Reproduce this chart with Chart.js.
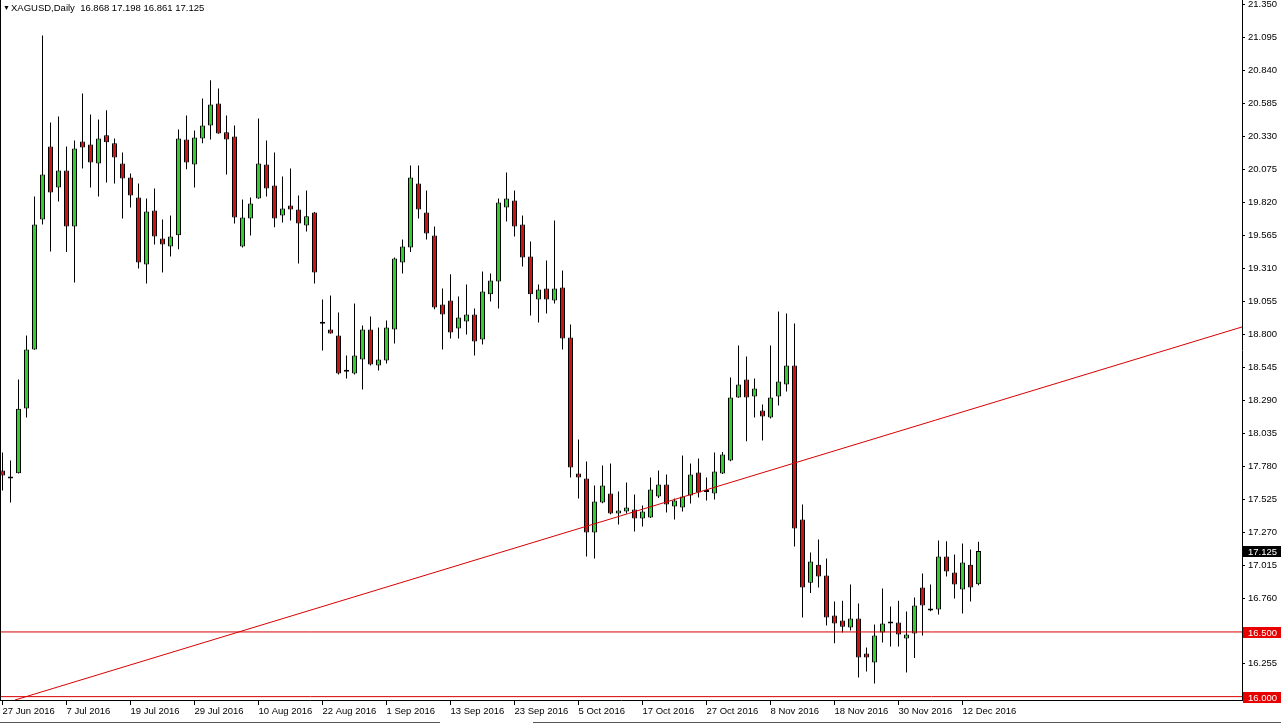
<!DOCTYPE html>
<html>
<head>
<meta charset="utf-8">
<script src="https://cdn.jsdelivr.net/npm/chart.js@4.4.1/dist/chart.umd.min.js"></script>
<style>
  html, body { margin: 0; padding: 0; background: #fff; }
  canvas { display: block; }
</style>
</head>
<body>
<canvas id="grafica" width="1281" height="724"></canvas>
<script>
// XAGUSD diario, una vela por dia habil (27 Jun - 14 Dic 2016)
const openP = [
  17.748, 17.702, 17.727, 18.227, 18.683, 19.688, 20.252, 19.935, 20.067, 19.634,
  20.291, 20.268, 20.121, 20.338, 20.276, 20.121, 20.013, 19.858, 19.340, 19.758,
  19.541, 19.479, 19.565, 20.306, 20.113, 20.314, 20.415, 20.585, 20.361, 20.330,
  19.479, 19.696, 19.850, 20.113, 19.951, 19.719, 19.796, 19.765, 19.642, 19.742,
  18.886, 18.838, 18.791, 18.515, 18.498, 18.606, 18.838, 18.560, 18.598, 18.838,
  19.356, 19.471, 19.966, 19.742, 19.564, 19.031, 19.062, 18.846, 18.900, 18.954,
  18.761, 19.109, 19.209, 19.781, 19.835, 19.649, 19.402, 19.070, 19.155, 19.062,
  19.163, 18.776, 17.724, 17.686, 17.268, 17.500, 17.570, 17.415, 17.431, 17.446,
  17.377, 17.384, 17.546, 17.639, 17.469, 17.461, 17.554, 17.732, 17.589, 17.570,
  17.724, 17.825, 18.312, 18.451, 18.320, 18.211, 18.158, 18.320, 18.413, 18.559,
  17.369, 16.881, 17.020, 16.936, 16.627, 16.588, 16.534, 16.603, 16.333, 16.263,
  16.495, 16.565, 16.572, 16.449, 16.487, 16.843, 16.681, 16.673, 17.083, 16.959,
  16.828, 17.020, 16.868
];
const highP = [
  17.887, 17.825, 18.451, 18.791, 19.866, 21.110, 20.438, 20.484, 20.252, 20.299,
  20.662, 20.500, 20.461, 20.531, 20.314, 20.206, 20.044, 19.966, 19.850, 19.928,
  19.688, 19.719, 20.384, 20.492, 20.376, 20.623, 20.763, 20.700, 20.492, 20.415,
  19.843, 19.858, 20.469, 20.299, 20.206, 20.020, 20.082, 19.874, 19.912, 19.745,
  19.070, 19.101, 18.969, 18.637, 19.039, 18.869, 18.938, 18.853, 18.907, 19.394,
  19.533, 20.105, 20.105, 19.912, 19.634, 19.155, 19.264, 19.093, 19.186, 19.000,
  19.286, 19.271, 19.850, 20.051, 19.912, 19.719, 19.518, 19.186, 19.371, 19.680,
  19.294, 18.876, 17.987, 17.817, 17.631, 17.786, 17.802, 17.585, 17.655, 17.562,
  17.477, 17.693, 17.747, 17.716, 17.531, 17.864, 17.802, 17.840, 17.693, 17.886,
  17.890, 18.467, 18.714, 18.629, 18.459, 18.258, 18.714, 18.977, 18.961, 18.884,
  17.485, 17.113, 17.214, 17.067, 16.735, 16.742, 16.866, 16.719, 16.379, 16.557,
  16.835, 16.696, 16.742, 16.658, 16.766, 16.951, 16.866, 17.206, 17.200, 17.098,
  17.183, 17.137, 17.198
];
const lowP = [
  17.593, 17.500, 17.724, 18.158, 18.680, 19.649, 19.441, 19.827, 19.437, 19.201,
  20.082, 19.935, 19.866, 19.974, 19.966, 19.696, 19.781, 19.309, 19.193, 19.495,
  19.278, 19.402, 19.457, 20.075, 19.935, 20.276, 20.306, 20.350, 20.036, 19.657,
  19.471, 19.564, 19.848, 19.866, 19.627, 19.665, 19.680, 19.348, 19.595, 19.193,
  18.675, 18.805, 18.490, 18.459, 18.490, 18.374, 18.560, 18.521, 18.575, 18.730,
  19.271, 19.437, 19.696, 19.533, 18.993, 18.683, 18.768, 18.768, 18.799, 18.637,
  18.722, 19.054, 19.000, 19.673, 19.556, 19.325, 18.946, 18.892, 18.961, 19.039,
  18.683, 17.693, 17.531, 17.083, 17.067, 17.495, 17.410, 17.330, 17.415, 17.276,
  17.315, 17.380, 17.536, 17.423, 17.369, 17.431, 17.492, 17.539, 17.516, 17.523,
  17.720, 17.820, 18.310, 17.974, 18.158, 17.980, 18.150, 18.250, 18.358, 17.160,
  16.611, 16.800, 16.843, 16.549, 16.412, 16.495, 16.511, 16.147, 16.194, 16.101,
  16.418, 16.387, 16.387, 16.186, 16.298, 16.472, 16.660, 16.634, 16.928, 16.758,
  16.642, 16.735, 16.861
];
const closeP = [
  17.709, 17.686, 18.225, 18.683, 19.649, 20.036, 19.897, 20.067, 19.634, 20.237,
  20.245, 20.129, 20.314, 20.284, 20.167, 20.005, 19.874, 19.356, 19.750, 19.557,
  19.495, 19.557, 20.314, 20.129, 20.322, 20.415, 20.577, 20.353, 20.306, 19.703,
  19.703, 19.812, 20.121, 19.928, 19.696, 19.773, 19.765, 19.657, 19.712, 19.278,
  18.882, 18.807, 18.498, 18.511, 18.637, 18.838, 18.567, 18.606, 18.853, 19.386,
  19.479, 20.013, 19.765, 19.580, 19.008, 18.954, 18.815, 18.931, 18.954, 18.745,
  19.132, 19.217, 19.819, 19.850, 19.634, 19.394, 19.109, 19.147, 19.070, 19.155,
  18.768, 17.771, 17.693, 17.268, 17.508, 17.631, 17.415, 17.438, 17.461, 17.377,
  17.431, 17.601, 17.639, 17.485, 17.516, 17.547, 17.716, 17.577, 17.581, 17.740,
  17.871, 18.312, 18.413, 18.312, 18.382, 18.165, 18.312, 18.436, 18.559, 17.299,
  16.843, 17.044, 16.928, 16.611, 16.565, 16.541, 16.603, 16.302, 16.302, 16.472,
  16.565, 16.580, 16.480, 16.480, 16.704, 16.704, 16.665, 17.083, 16.967, 16.866,
  17.036, 16.843, 17.125
];

// etiquetas del eje X, una cada 8 velas
const xTickLabels = [
  '27 Jun 2016', '7 Jul 2016', '19 Jul 2016', '29 Jul 2016', '10 Aug 2016',
  '22 Aug 2016', '1 Sep 2016', '13 Sep 2016', '23 Sep 2016', '5 Oct 2016',
  '17 Oct 2016', '27 Oct 2016', '8 Nov 2016', '18 Nov 2016', '30 Nov 2016',
  '12 Dec 2016'
];
const yTickLabels = [
  21.350, 21.095, 20.840, 20.585, 20.330, 20.075, 19.820, 19.565, 19.310, 19.055,
  18.800, 18.545, 18.290, 18.035, 17.780, 17.525, 17.270, 17.015, 16.760, 16.505,
  16.255
];

const levels = [16.500, 16.000];          // lineas horizontales
const lastPrice = 17.125;                 // precio actual
const trendStart = { idx: 1.56, price: 15.974 };
const trendEnd = { idx: 154.94, price: 18.857 };
const symbolText = 'XAGUSD,Daily  16.868 17.198 16.861 17.125';

const X_MIN = -0.3125, X_MAX = 154.9375;
const Y_MIN = 15.974, Y_MAX = 21.384;

const VERDE = '#32cd32';
const ROJO = '#cc1414';
const LINEA = '#d80000';
const FUENTE = '"Liberation Sans", "DejaVu Sans", sans-serif';

// datos de las graficas
const mechas = openP.map((o, i) => ({ x: i, y: [lowP[i], highP[i]] }));
const cuerpos = openP.map((o, i) => ({ x: i, y: [Math.min(o, closeP[i]), Math.max(o, closeP[i])] }));
const colores = openP.map((o, i) => closeP[i] >= o ? VERDE : ROJO);

const lineasH = levels.map(v => ({
  type: 'line',
  data: [{ x: X_MIN, y: v }, { x: X_MAX, y: v }],
  borderColor: LINEA,
  borderWidth: 1,
  pointRadius: 0,
  order: -1
}));

const marcoMT4 = {
  id: 'marcoMT4',
  beforeDraw(chart) {
    const ctx = chart.ctx;
    ctx.save();
    ctx.fillStyle = '#fff';
    ctx.fillRect(0, 0, chart.width, chart.height);
    ctx.restore();
  },
  afterDraw(chart) {
    const ctx = chart.ctx;
    const area = chart.chartArea;
    const ys = chart.scales.y;
    ctx.save();

    // borde izquierdo
    ctx.strokeStyle = '#000';
    ctx.lineWidth = 1;
    ctx.beginPath();
    ctx.moveTo(0.5, 0);
    ctx.lineTo(0.5, area.bottom);
    ctx.stroke();

    // cajas de precio en el eje
    ctx.font = '9.5px ' + FUENTE;
    ctx.textBaseline = 'middle';
    ctx.textAlign = 'left';
    const caja = (value, fondo) => {
      const py = Math.round(ys.getPixelForValue(value));
      ctx.fillStyle = fondo;
      ctx.fillRect(area.right + 1, py - 5, 38, 11);
      ctx.fillStyle = '#fff';
      ctx.fillText(value.toFixed(3), area.right + 6, py + 1);
    };
    levels.forEach(v => caja(v, '#e80000'));
    caja(lastPrice, '#000');

    // titulo arriba a la izquierda
    ctx.fillStyle = '#000';
    ctx.font = '7px ' + FUENTE;
    ctx.fillText('▼', 3, 8);
    ctx.font = '9.5px ' + FUENTE;
    ctx.fillText(symbolText, 11, 8);

    // linea inferior de la ventana
    ctx.strokeStyle = '#555';
    ctx.beginPath();
    ctx.moveTo(0, 722.5); ctx.lineTo(440, 722.5);
    ctx.moveTo(533, 722.5); ctx.lineTo(chart.width, 722.5);
    ctx.stroke();

    ctx.restore();
  }
};

const ctx = document.getElementById('grafica').getContext('2d');
const chart = new Chart(ctx, {
  type: 'bar',
  data: {
    datasets: [
      {
        label: 'mechas',
        data: mechas,
        backgroundColor: '#000',
        borderWidth: 0,
        barThickness: 1,
        maxBarThickness: 1,
        grouped: false,
        inflateAmount: 0,
        order: 2
      },
      {
        label: 'cuerpos',
        data: cuerpos,
        backgroundColor: colores,
        borderColor: '#000',
        borderWidth: 1,
        borderSkipped: false,
        barThickness: 5,
        maxBarThickness: 5,
        minBarLength: 2,
        grouped: false,
        inflateAmount: 0,
        order: 1
      },
      ...lineasH,
      {
        type: 'line',
        label: 'tendencia',
        data: [{ x: trendStart.idx, y: trendStart.price }, { x: trendEnd.idx, y: trendEnd.price }],
        borderColor: LINEA,
        borderWidth: 1,
        pointRadius: 0,
        order: -1
      }
    ]
  },
  options: {
    responsive: false,
    animation: false,
    events: [],
    layout: { padding: 0 },
    plugins: {
      legend: { display: false },
      tooltip: { enabled: false },
      title: { display: false }
    },
    scales: {
      x: {
        type: 'linear',
        min: X_MIN,
        max: X_MAX,
        offset: false,
        afterBuildTicks: (s) => { s.ticks = xTickLabels.map((t, k) => ({ value: k * 8 })); },
        afterFit: (s) => {
          s.height = 24;
          s.paddingLeft = 0; s.paddingRight = 0;
        },
        grid: { display: true, drawOnChartArea: false, drawTicks: true, tickLength: 5, color: '#000', offset: false },
        border: { display: true, color: '#000' },
        ticks: {
          autoSkip: false,
          maxRotation: 0,
          align: 'start',
          padding: 1,
          color: '#000',
          font: { family: FUENTE, size: 9.5 },
          callback: (v) => xTickLabels[Math.round(v / 8)] || ''
        }
      },
      y: {
        position: 'right',
        min: Y_MIN,
        max: Y_MAX,
        afterBuildTicks: (s) => { s.ticks = yTickLabels.map(v => ({ value: v })); },
        afterFit: (s) => {
          s.width = 39;
          s.paddingTop = 0; s.paddingBottom = 0;
        },
        grid: { display: true, drawOnChartArea: false, drawTicks: true, tickLength: 3, color: '#000' },
        border: { display: true, color: '#000' },
        ticks: {
          padding: 3,
          color: '#000',
          font: { family: FUENTE, size: 9.5 },
          callback: (v) => Number(v).toFixed(3)
        }
      }
    }
  },
  plugins: [marcoMT4]
});
</script>
</body>
</html>
